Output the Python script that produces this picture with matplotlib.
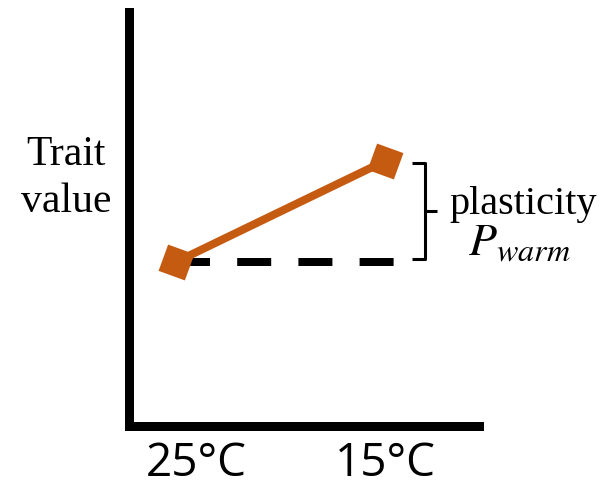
import numpy as np
import matplotlib
matplotlib.use('Agg')
import matplotlib.pyplot as plt
import matplotlib.transforms as mtransforms

plt.rcParams['mathtext.fontset'] = 'stix'

# reaction norm: trait value at the two temperatures
temps = ['25°C', '15°C']
x_pos = [0, 1]
trait = [1.0, 2.0]

orange = '#C55A11'

fig = plt.figure(figsize=(6.16, 4.86), dpi=100)
ax = fig.add_axes([128.5/616, 60/486, 350/616, 413.5/486])

# dashed reference at the warm value
ax.plot([x_pos[0], 1.048], [trait[0], trait[0]], color='black', lw=5.76,
        linestyle=(0, (4.25, 3.4)), dash_capstyle='butt', zorder=2)
ax.plot(x_pos, trait, color=orange, lw=5.76, marker=(4, 0, 25), markersize=28.5,
        markeredgewidth=0, zorder=3)

# bracket showing plasticity
bx0, bx1, bx2 = 1.13, 1.19, 1.25
ytop = trait[1] - 0.02
ybot = trait[0] + 0.03
ymid = (ytop + ybot) / 2
ax.plot([bx0, bx1, bx1, bx0], [ytop, ytop, ybot, ybot], color='black', lw=2.2,
        solid_joinstyle='round', solid_capstyle='butt', zorder=2)
ax.plot([bx1, bx2], [ymid, ymid], color='black', lw=2.2, solid_capstyle='butt')

ax.text(1.306, 1.475, 'plasticity', family='Liberation Serif', fontsize=29,
        ha='left', va='baseline')
ax.text(1.397, 1.069, r'$P_{warm}$', fontsize=33, ha='left', va='baseline')

ax.set_xlim(-0.227, 1.447)
ax.set_ylim(-0.624, 3.47)
ax.set_xticks(x_pos)
ax.set_xticklabels(temps, family='Open Sans', fontsize=33)
ax.set_yticks([])
ax.tick_params(axis='x', length=0, pad=11)
# first label sits a bit right of its point
lab = ax.get_xticklabels()[0]
lab.set_transform(lab.get_transform() + mtransforms.ScaledTranslation(20/100, 0, fig.dpi_scale_trans))

for s in ['top', 'right']:
    ax.spines[s].set_visible(False)
for s in ['left', 'bottom']:
    ax.spines[s].set_linewidth(6.48)

fig.text(66/616, 1 - 212/486, 'Trait\nvalue', family='Liberation Serif', fontsize=30,
         ha='center', va='baseline', linespacing=1.3)

fig.savefig('out.png', dpi=100)
